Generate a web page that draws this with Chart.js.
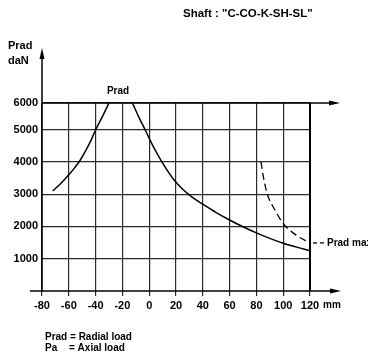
<!DOCTYPE html>
<html>
<head>
<meta charset="utf-8">
<script src="https://cdn.jsdelivr.net/npm/chart.js@4/dist/chart.umd.min.js"></script>
<style>
  html, body { margin: 0; padding: 0; background: #fff; }
  #wrap { width: 368px; height: 356px; position: relative; }
</style>
</head>
<body>
<div id="wrap"><canvas id="c" width="368" height="356"></canvas></div>
<script>
// Shaft offset (mm) ticks and radial-load ticks (daN)
const X_TICKS = [-80, -60, -40, -20, 0, 20, 40, 60, 80, 100, 120];
const Y_TICKS = [1000, 2000, 3000, 4000, 5000, 6000];

// Radial load curve, left branch
const LEFT_X = [-72, -66, -60, -56, -52, -48, -44, -40, -35, -30];
const LEFT_Y = [3100, 3330, 3600, 3800, 4020, 4300, 4620, 4990, 5480, 6000];

// Radial load curve, right branch
const RIGHT_X = [-12.5, -7.5, -2.5, 2.5, 7.5, 12.5, 18, 25, 32, 40, 50, 60, 70, 80, 90, 100, 110, 120];
const RIGHT_Y = [6000, 5440, 4950, 4520, 4140, 3800, 3470, 3150, 2910, 2690, 2430, 2200, 1990, 1800, 1630, 1480, 1360, 1250];

// Prad max curve (dashed)
const MAX_X = [83.4, 85.2, 88, 94, 100, 110, 120];
const MAX_Y = [4000, 3540, 3020, 2500, 2090, 1720, 1490];

const FONT = "'Liberation Sans', Arial, sans-serif";
const BREAK = 5000;      // top band of the load axis is drawn compressed
const TOP_RATIO = 0.825;

class BrokenTopScale extends Chart.LinearScale {
  static id = 'brokentop';
  static defaults = Chart.LinearScale.defaults;
  warp(v) { return v <= BREAK ? v : BREAK + (v - BREAK) * TOP_RATIO; }
  unwarp(w) { return w <= BREAK ? w : BREAK + (w - BREAK) / TOP_RATIO; }
  getPixelForValue(v) {
    const lo = this.warp(this.min), hi = this.warp(this.max);
    return this.bottom - (this.warp(v) - lo) / (hi - lo) * (this.bottom - this.top);
  }
  getValueForPixel(p) {
    const lo = this.warp(this.min), hi = this.warp(this.max);
    return this.unwarp(lo + (this.bottom - p) / (this.bottom - this.top) * (hi - lo));
  }
}
Chart.register(BrokenTopScale);

const pts = (xs, ys) => xs.map((x, i) => ({ x, y: ys[i] }));

function arrowHead(ctx, x, y, dir) {
  ctx.beginPath();
  if (dir === 'right') {
    ctx.moveTo(x, y); ctx.lineTo(x - 11, y - 2.5); ctx.lineTo(x - 11, y + 2.5);
  } else {
    ctx.moveTo(x, y); ctx.lineTo(x - 2.5, y + 11); ctx.lineTo(x + 2.5, y + 11);
  }
  ctx.closePath();
  ctx.fill();
}

const decorations = {
  id: 'decorations',
  afterDraw(chart) {
    const { ctx, scales: { x, y } } = chart;
    const x0 = x.getPixelForValue(-80), xEnd = x.getPixelForValue(120);
    const yTop = y.getPixelForValue(6000), yBase = y.getPixelForValue(0);
    ctx.save();
    ctx.strokeStyle = '#000';
    ctx.fillStyle = '#000';

    // base axis with arrow
    ctx.lineWidth = 1.5;
    ctx.beginPath(); ctx.moveTo(30, yBase); ctx.lineTo(333, yBase); ctx.stroke();
    arrowHead(ctx, 341, yBase, 'right');
    // top line extension with arrow
    ctx.beginPath(); ctx.moveTo(x0, yTop); ctx.lineTo(333, yTop); ctx.stroke();
    arrowHead(ctx, 340, yTop, 'right');
    // vertical load axis with arrow
    ctx.beginPath(); ctx.moveTo(x0, yBase); ctx.lineTo(x0, 56); ctx.stroke();
    arrowHead(ctx, x0, 48, 'up');
    // right border at 120 mm
    ctx.lineWidth = 2;
    ctx.beginPath(); ctx.moveTo(xEnd, yTop); ctx.lineTo(xEnd, yBase); ctx.stroke();

    // leader to the Prad max label
    const yMax = y.getPixelForValue(MAX_Y[MAX_Y.length - 1]);
    ctx.lineWidth = 1.2;
    ctx.setLineDash([4, 3]);
    ctx.beginPath(); ctx.moveTo(xEnd + 3, yMax); ctx.lineTo(xEnd + 14, yMax); ctx.stroke();
    ctx.setLineDash([]);

    ctx.textBaseline = 'middle';
    ctx.textAlign = 'left';
    ctx.font = 'bold 11.5px ' + FONT;
    ctx.fillText('Shaft : "C-CO-K-SH-SL"', 183, 14);
    ctx.font = 'bold 11px ' + FONT;
    ctx.fillText('Prad', 8, 46);
    ctx.fillText('daN', 8, 61);
    ctx.font = 'bold 10px ' + FONT;
    ctx.fillText('Prad max', xEnd + 17, yMax);
    ctx.fillText('mm', 323, 305);
    ctx.fillText('Prad = Radial load', 45, 337);
    ctx.fillText('Pa', 45, 348);
    ctx.fillText('= Axial load', 69, 348);
    ctx.textAlign = 'center';
    ctx.fillText('Prad', 118, 91);
    ctx.restore();
  }
};

new Chart(document.getElementById('c'), {
  type: 'scatter',
  data: {
    datasets: [
      { data: pts(LEFT_X, LEFT_Y), showLine: true, borderColor: '#000', borderWidth: 1.5,
        pointRadius: 0, cubicInterpolationMode: 'monotone' },
      { data: pts(RIGHT_X, RIGHT_Y), showLine: true, borderColor: '#000', borderWidth: 1.5,
        pointRadius: 0, cubicInterpolationMode: 'monotone' },
      { data: pts(MAX_X, MAX_Y), showLine: true, borderColor: '#000', borderWidth: 1.3,
        borderDash: [7, 4], pointRadius: 0, cubicInterpolationMode: 'monotone' }
    ]
  },
  options: {
    responsive: false,
    animation: false,
    events: [],
    layout: { padding: { top: 103, right: 58, bottom: 0, left: 0 } },
    plugins: { legend: { display: false }, tooltip: { enabled: false } },
    scales: {
      x: {
        type: 'linear', min: -80, max: 120,
        afterBuildTicks: s => { s.ticks = X_TICKS.map(v => ({ value: v })); },
        afterFit: s => { s.height = 65; },
        border: { display: false },
        grid: { color: '#2a2a2a', lineWidth: 1.2, drawTicks: true, tickLength: 5 },
        ticks: { color: '#000', padding: 3, maxRotation: 0, autoSkip: false,
                 font: { family: FONT, size: 11, weight: 'bold' }, callback: v => String(v) }
      },
      y: {
        type: 'brokentop', min: 0, max: 6000,
        afterBuildTicks: s => { s.ticks = Y_TICKS.map(v => ({ value: v })); },
        afterFit: s => { s.width = 42; },
        border: { display: false },
        grid: { color: '#2a2a2a', lineWidth: 1.2, drawTicks: false },
        ticks: { color: '#000', padding: 4, autoSkip: false,
                 font: { family: FONT, size: 11, weight: 'bold' }, callback: v => String(v) }
      }
    }
  },
  plugins: [decorations]
});
</script>
</body>
</html>
